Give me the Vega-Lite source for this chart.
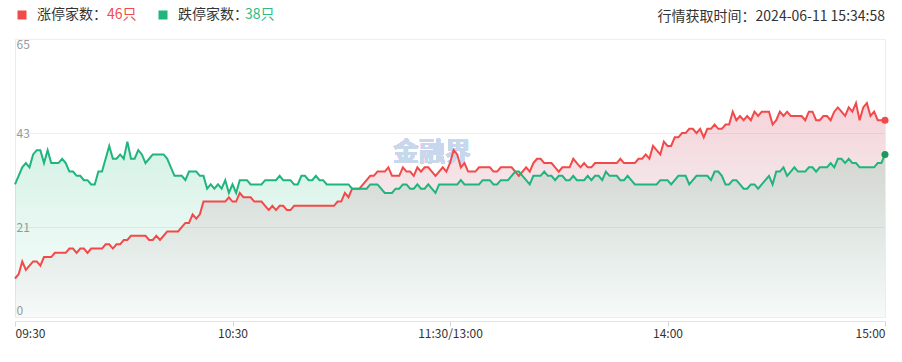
{
"$schema":"https://vega.github.io/schema/vega-lite/v6.json",
"width":870,"height":278,
"autosize":"none",
"padding":{"left":15,"top":39,"right":17,"bottom":45},
"background":"white",
"config":{"view":{"stroke":"#ececec","strokeWidth":1},"font":"Noto Sans CJK SC"},
"title":{"text":"行情获取时间：2024-06-11 15:34:58","anchor":"end","orient":"top","frame":"group","offset":-8,"dy":15,"fontSize":14,"fontWeight":"normal","color":"#333333","font":"Noto Sans CJK SC","baseline":"middle"},
"data":{"values":[
{"m":0,"zt":9,"dt":31},{"m":1,"zt":10,"dt":33},{"m":2,"zt":13,"dt":35},{"m":3,"zt":11,"dt":36},{"m":4,"zt":12,"dt":35},{"m":5,"zt":13,"dt":38},{"m":6,"zt":13,"dt":39},{"m":7,"zt":12,"dt":39},{"m":8,"zt":14,"dt":36},{"m":9,"zt":14,"dt":39},
{"m":10,"zt":14,"dt":36},{"m":11,"zt":15,"dt":36},{"m":12,"zt":15,"dt":36},{"m":13,"zt":15,"dt":37},{"m":14,"zt":15,"dt":36},{"m":15,"zt":16,"dt":34},{"m":16,"zt":16,"dt":34},{"m":17,"zt":15,"dt":33},{"m":18,"zt":16,"dt":33},{"m":19,"zt":16,"dt":32},
{"m":20,"zt":15,"dt":32},{"m":21,"zt":16,"dt":31},{"m":22,"zt":16,"dt":31},{"m":23,"zt":16,"dt":34},{"m":24,"zt":16,"dt":34},{"m":25,"zt":17,"dt":37},{"m":26,"zt":17,"dt":40},{"m":27,"zt":16,"dt":37},{"m":28,"zt":17,"dt":37},{"m":29,"zt":17,"dt":38},
{"m":30,"zt":18,"dt":37},{"m":31,"zt":18,"dt":41},{"m":32,"zt":19,"dt":37},{"m":33,"zt":19,"dt":37},{"m":34,"zt":19,"dt":39},{"m":35,"zt":19,"dt":38},{"m":36,"zt":19,"dt":36},{"m":37,"zt":18,"dt":37},{"m":38,"zt":18,"dt":38},{"m":39,"zt":19,"dt":38},
{"m":40,"zt":18,"dt":38},{"m":41,"zt":19,"dt":38},{"m":42,"zt":20,"dt":37},{"m":43,"zt":20,"dt":35},{"m":44,"zt":20,"dt":33},{"m":45,"zt":20,"dt":33},{"m":46,"zt":21,"dt":33},{"m":47,"zt":22,"dt":32},{"m":48,"zt":22,"dt":34},{"m":49,"zt":24,"dt":34},
{"m":50,"zt":23,"dt":34},{"m":51,"zt":24,"dt":33},{"m":52,"zt":27,"dt":33},{"m":53,"zt":27,"dt":30},{"m":54,"zt":27,"dt":31},{"m":55,"zt":27,"dt":30},{"m":56,"zt":27,"dt":31},{"m":57,"zt":27,"dt":30},{"m":58,"zt":27,"dt":32},{"m":59,"zt":28,"dt":29},
{"m":60,"zt":27,"dt":31},{"m":61,"zt":27,"dt":29},{"m":62,"zt":29,"dt":32},{"m":63,"zt":28,"dt":32},{"m":64,"zt":28,"dt":32},{"m":65,"zt":28,"dt":31},{"m":66,"zt":27,"dt":31},{"m":67,"zt":27,"dt":31},{"m":68,"zt":27,"dt":31},{"m":69,"zt":26,"dt":32},
{"m":70,"zt":25,"dt":32},{"m":71,"zt":26,"dt":32},{"m":72,"zt":25,"dt":32},{"m":73,"zt":26,"dt":33},{"m":74,"zt":26,"dt":32},{"m":75,"zt":25,"dt":32},{"m":76,"zt":25,"dt":32},{"m":77,"zt":26,"dt":31},{"m":78,"zt":26,"dt":31},{"m":79,"zt":26,"dt":33},
{"m":80,"zt":26,"dt":33},{"m":81,"zt":26,"dt":32},{"m":82,"zt":26,"dt":32},{"m":83,"zt":26,"dt":33},{"m":84,"zt":26,"dt":32},{"m":85,"zt":26,"dt":32},{"m":86,"zt":26,"dt":31},{"m":87,"zt":26,"dt":31},{"m":88,"zt":26,"dt":31},{"m":89,"zt":27,"dt":31},
{"m":90,"zt":27,"dt":31},{"m":91,"zt":29,"dt":31},{"m":92,"zt":28,"dt":31},{"m":93,"zt":30,"dt":30},{"m":94,"zt":30,"dt":30},{"m":95,"zt":30,"dt":30},{"m":96,"zt":31,"dt":30},{"m":97,"zt":32,"dt":30},{"m":98,"zt":33,"dt":31},{"m":99,"zt":33,"dt":31},
{"m":100,"zt":34,"dt":31},{"m":101,"zt":34,"dt":30},{"m":102,"zt":34,"dt":29},{"m":103,"zt":35,"dt":29},{"m":104,"zt":33,"dt":29},{"m":105,"zt":33,"dt":30},{"m":106,"zt":33,"dt":30},{"m":107,"zt":35,"dt":31},{"m":108,"zt":34,"dt":31},{"m":109,"zt":34,"dt":30},
{"m":110,"zt":33,"dt":30},{"m":111,"zt":35,"dt":31},{"m":112,"zt":34,"dt":30},{"m":113,"zt":35,"dt":30},{"m":114,"zt":35,"dt":31},{"m":115,"zt":34,"dt":30},{"m":116,"zt":33,"dt":29},{"m":117,"zt":34,"dt":31},{"m":118,"zt":35,"dt":31},{"m":119,"zt":34,"dt":31},
{"m":120,"zt":36,"dt":31},{"m":121,"zt":39,"dt":31},{"m":122,"zt":38,"dt":31},{"m":123,"zt":35,"dt":32},{"m":124,"zt":36,"dt":31},{"m":125,"zt":34,"dt":31},{"m":126,"zt":34,"dt":31},{"m":127,"zt":34,"dt":31},{"m":128,"zt":35,"dt":31},{"m":129,"zt":35,"dt":32},
{"m":130,"zt":35,"dt":32},{"m":131,"zt":35,"dt":32},{"m":132,"zt":34,"dt":31},{"m":133,"zt":34,"dt":31},{"m":134,"zt":35,"dt":32},{"m":135,"zt":35,"dt":32},{"m":136,"zt":35,"dt":32},{"m":137,"zt":35,"dt":33},{"m":138,"zt":34,"dt":34},{"m":139,"zt":33,"dt":34},
{"m":140,"zt":34,"dt":33},{"m":141,"zt":35,"dt":32},{"m":142,"zt":34,"dt":31},{"m":143,"zt":36,"dt":33},{"m":144,"zt":37,"dt":33},{"m":145,"zt":37,"dt":33},{"m":146,"zt":36,"dt":34},{"m":147,"zt":36,"dt":33},{"m":148,"zt":36,"dt":33},{"m":149,"zt":35,"dt":32},
{"m":150,"zt":34,"dt":33},{"m":151,"zt":35,"dt":33},{"m":152,"zt":35,"dt":32},{"m":153,"zt":35,"dt":32},{"m":154,"zt":37,"dt":33},{"m":155,"zt":36,"dt":32},{"m":156,"zt":35,"dt":32},{"m":157,"zt":36,"dt":32},{"m":158,"zt":35,"dt":33},{"m":159,"zt":35,"dt":32},
{"m":160,"zt":36,"dt":33},{"m":161,"zt":36,"dt":33},{"m":162,"zt":36,"dt":32},{"m":163,"zt":36,"dt":34},{"m":164,"zt":36,"dt":33},{"m":165,"zt":36,"dt":33},{"m":166,"zt":36,"dt":33},{"m":167,"zt":37,"dt":32},{"m":168,"zt":36,"dt":32},{"m":169,"zt":36,"dt":33},
{"m":170,"zt":36,"dt":32},{"m":171,"zt":36,"dt":31},{"m":172,"zt":37,"dt":31},{"m":173,"zt":37,"dt":31},{"m":174,"zt":38,"dt":31},{"m":175,"zt":37,"dt":31},{"m":176,"zt":40,"dt":31},{"m":177,"zt":39,"dt":31},{"m":178,"zt":38,"dt":32},{"m":179,"zt":41,"dt":32},
{"m":180,"zt":40,"dt":32},{"m":181,"zt":40,"dt":31},{"m":182,"zt":42,"dt":32},{"m":183,"zt":42,"dt":33},{"m":184,"zt":43,"dt":33},{"m":185,"zt":43,"dt":33},{"m":186,"zt":44,"dt":31},{"m":187,"zt":44,"dt":32},{"m":188,"zt":43,"dt":33},{"m":189,"zt":44,"dt":33},
{"m":190,"zt":42,"dt":33},{"m":191,"zt":44,"dt":33},{"m":192,"zt":44,"dt":32},{"m":193,"zt":45,"dt":34},{"m":194,"zt":44,"dt":34},{"m":195,"zt":44,"dt":33},{"m":196,"zt":45,"dt":31},{"m":197,"zt":45,"dt":31},{"m":198,"zt":48,"dt":32},{"m":199,"zt":46,"dt":32},
{"m":200,"zt":47,"dt":31},{"m":201,"zt":46,"dt":30},{"m":202,"zt":47,"dt":30},{"m":203,"zt":46,"dt":31},{"m":204,"zt":48,"dt":31},{"m":205,"zt":47,"dt":30},{"m":206,"zt":48,"dt":31},{"m":207,"zt":48,"dt":32},{"m":208,"zt":48,"dt":33},{"m":209,"zt":45,"dt":31},
{"m":210,"zt":46,"dt":34},{"m":211,"zt":48,"dt":34},{"m":212,"zt":47,"dt":35},{"m":213,"zt":48,"dt":33},{"m":214,"zt":47,"dt":34},{"m":215,"zt":47,"dt":35},{"m":216,"zt":47,"dt":34},{"m":217,"zt":47,"dt":34},{"m":218,"zt":46,"dt":34},{"m":219,"zt":48,"dt":35},
{"m":220,"zt":48,"dt":35},{"m":221,"zt":46,"dt":34},{"m":222,"zt":46,"dt":35},{"m":223,"zt":47,"dt":35},{"m":224,"zt":47,"dt":35},{"m":225,"zt":46,"dt":36},{"m":226,"zt":48,"dt":35},{"m":227,"zt":49,"dt":37},{"m":228,"zt":48,"dt":37},{"m":229,"zt":47,"dt":36},
{"m":230,"zt":49,"dt":37},{"m":231,"zt":48,"dt":36},{"m":232,"zt":50,"dt":36},{"m":233,"zt":46,"dt":35},{"m":234,"zt":49,"dt":35},{"m":235,"zt":50,"dt":35},{"m":236,"zt":47,"dt":35},{"m":237,"zt":48,"dt":35},{"m":238,"zt":46,"dt":36},{"m":239,"zt":46,"dt":36},
{"m":240,"zt":46,"dt":38}
]},
"transform":[{"fold":["zt","dt"],"as":["series","value"]}],
"encoding":{
 "x":{"field":"m","type":"quantitative","scale":{"domain":[0,240],"nice":false,"zero":false},
  "axis":{"values":[0,60,120,180,240],"labelExpr":"datum.value==0?'09:30':datum.value==60?'10:30':datum.value==120?'11:30/13:00':datum.value==180?'14:00':'15:00'","title":null,"grid":false,"offset":4,"labelFlush":true,"domainColor":"#e3e3e3","tickColor":"#d6d6d6","tickSize":5,"labelColor":"#333333","labelFontSize":12,"labelFont":"Noto Sans CJK SC","labelPadding":2}},
 "y":{"field":"value","type":"quantitative","scale":{"domain":[0,65],"nice":false,"zero":true},
  "axis":{"values":[0,21,43,65],"title":null,"grid":true,"gridColor":"#eeeeee","domain":false,"ticks":false,"labelAlign":"left","labelPadding":-1,"labelFlush":true,"labelColor":"#999999","labelFontSize":12,"labelFont":"Noto Sans CJK SC"}}
},
"layer":[
 {"transform":[{"filter":"datum.series=='dt'"}],"mark":{"type":"area","color":{"gradient":"linear","x1":0,"y1":0,"x2":0,"y2":1,"stops":[{"offset":0,"color":"rgba(29,184,123,0.19)"},{"offset":1,"color":"rgba(29,184,123,0.02)"}]}}},
 {"transform":[{"filter":"datum.series=='zt'"}],"mark":{"type":"area","color":{"gradient":"linear","x1":0,"y1":0,"x2":0,"y2":1,"stops":[{"offset":0,"color":"rgba(222,90,115,0.27)"},{"offset":1,"color":"rgba(150,150,150,0.04)"}]}}},
 {"mark":{"type":"text","text":"金融界","fontSize":26,"fontWeight":"bold","color":"#c9d7ec","opacity":0.5,"font":"Noto Sans CJK SC"},"encoding":{"x":{"datum":115},"y":{"datum":38.3}}},
 {"mark":{"type":"line","strokeWidth":2},"encoding":{"color":{"field":"series","type":"nominal","scale":{"domain":["zt","dt"],"range":["#f24a4a","#1fb57c"]},
   "legend":{"orient":"none","legendX":0,"legendY":-31,"direction":"horizontal","title":null,"symbolType":"square","symbolSize":81,"symbolStrokeWidth":0,"labelFontSize":14,"labelColor":"#333333","labelFont":"Noto Sans CJK SC","labelOffset":8,"columnPadding":49,"padding":0,
    "labelExpr":"datum.value=='zt'?'涨停家数：':'跌停家数：'",
    "encode":{"symbols":{"update":{"fill":{"scale":"color","field":"value"},"stroke":{"value":"transparent"}}}}}}}},
 {"transform":[{"filter":"datum.m==240 && datum.series=='zt'"}],"mark":{"type":"circle","size":50,"color":"#f24a4a"},
  "encoding":{"opacity":{"field":"series","type":"ordinal","scale":{"domain":["dt","zt"],"range":[1,1]},
   "legend":{"orient":"none","legendX":78,"legendY":-31,"direction":"horizontal","title":null,"values":["zt","dt"],"symbolSize":0,"symbolOpacity":0,"symbolStrokeWidth":0,"symbolFillColor":"transparent","symbolStrokeColor":"transparent","labelFontSize":14,"labelFont":"Noto Sans CJK SC","labelOffset":0,"columnPadding":94,"padding":0,
    "labelColor":{"expr":"datum.value=='zt'?'#f04a4a':'#2fbb80'"},
    "labelExpr":"datum.value=='zt'?'46只':'38只'",
    "encode":{"symbols":{"update":{"opacity":{"value":0},"fill":{"value":"transparent"},"stroke":{"value":"transparent"}}},"labels":{"update":{"fill":{"signal":"datum.value=='zt'?'#f04a4a':'#2fbb80'"}}}}}}}},
 {"transform":[{"filter":"datum.m==240 && datum.series=='dt'"}],"mark":{"type":"circle","size":50,"color":"#1c9a5c","opacity":1}}
]
}
